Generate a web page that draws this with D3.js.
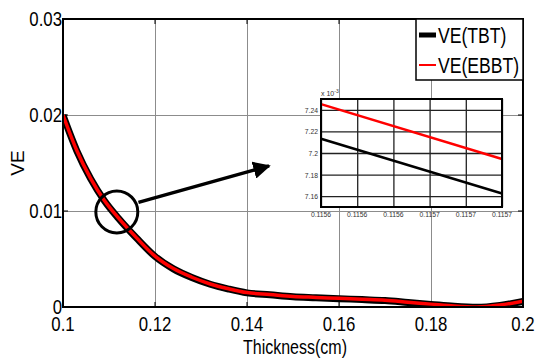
<!DOCTYPE html>
<html>
<head>
<meta charset="utf-8">
<script src="https://cdn.jsdelivr.net/npm/d3@7"></script>
<style>
  body { margin: 0; background: #fff; }
  svg text { font-family: "Liberation Sans", Arial, sans-serif; }
</style>
</head>
<body>
<div id="chart"></div>
<script>
// Main curve data
const thickness = [0.100, 0.103, 0.106, 0.109, 0.112, 0.116, 0.120, 0.124, 0.128, 0.132, 0.136, 0.140,
                   0.145, 0.150, 0.155, 0.160, 0.165, 0.170, 0.175, 0.180, 0.185, 0.190, 0.195, 0.200];
const veEBBT = [0.0200, 0.0163, 0.0134, 0.0111, 0.0093, 0.0072, 0.0053, 0.0040, 0.0031, 0.0024, 0.0019, 0.0015,
                0.0013, 0.0011, 0.0010, 0.0009, 0.0008, 0.0007, 0.0005, 0.0003, 0.0001, 0.0000, 0.0002, 0.0006];
const veTBT = [0.01997, 0.01627, 0.01337, 0.01107, 0.00927, 0.00717, 0.00527, 0.00397, 0.00307, 0.00237, 0.00187, 0.00147,
               0.00127, 0.00107, 0.00097, 0.00087, 0.00077, 0.00067, 0.00047, 0.00027, 0.00007, -0.00003, 0.00017, 0.00057];
const xTicks = [0.1, 0.12, 0.14, 0.16, 0.18, 0.2];
const yTicks = [0, 0.01, 0.02, 0.03];
const legendLabels = ["VE(TBT)", "VE(EBBT)"];

// Zoomed inset data (values x 10^-3)
const insetX = [0.11560, 0.11570];
const insetTBT = [7.2132, 7.1625];
const insetEBBT = [7.2453, 7.1945];
const insetXTicks = [0.11560, 0.11562, 0.11564, 0.11566, 0.11568, 0.11570];
const insetYTicks = [7.16, 7.18, 7.20, 7.22, 7.24];

// Annotation: circle on the curve and arrow to the inset
const markPoint = [0.1117, 0.0099];
const arrowFrom = [0.1164, 0.0109];
const arrowTo = [0.1448, 0.0147];

const W = 536, H = 358;
const margin = {top: 19, right: 13, bottom: 51, left: 63};
const width = W - margin.left - margin.right;
const height = H - margin.top - margin.bottom;

// narrow-looking text: no condensed font installed, so squeeze horizontally
function addText(parent, x, y, str, size, anchor, sx) {
    return parent.append("text")
        .attr("transform", `translate(${x},${y}) scale(${sx},1)`)
        .attr("text-anchor", anchor || "start")
        .style("font-size", size + "px")
        .text(str);
}

const svg = d3.select("#chart").append("svg")
    .attr("width", W).attr("height", H);

const g = svg.append("g")
    .attr("transform", `translate(${margin.left},${margin.top})`);

const x = d3.scaleLinear().domain([0.1, 0.2]).range([0, width]);
const y = d3.scaleLinear().domain([0, 0.03]).range([height, 0]);

// Grid
g.append("g")
    .attr("transform", `translate(0,${height})`)
    .call(d3.axisBottom(x).tickValues(xTicks).tickSize(-height).tickFormat(""))
    .call(a => a.select(".domain").remove())
    .selectAll("line").attr("stroke", "#8c8c8c").attr("stroke-width", 1);
g.append("g")
    .call(d3.axisLeft(y).tickValues(yTicks).tickSize(-width).tickFormat(""))
    .call(a => a.select(".domain").remove())
    .selectAll("line").attr("stroke", "#8c8c8c").attr("stroke-width", 1);

// Tick marks (inward, all four sides)
const tickLen = 5;
xTicks.forEach(t => {
    g.append("line").attr("x1", x(t)).attr("x2", x(t)).attr("y1", height).attr("y2", height - tickLen).attr("stroke", "#000");
    g.append("line").attr("x1", x(t)).attr("x2", x(t)).attr("y1", 0).attr("y2", tickLen).attr("stroke", "#000");
});
yTicks.forEach(t => {
    g.append("line").attr("x1", 0).attr("x2", tickLen).attr("y1", y(t)).attr("y2", y(t)).attr("stroke", "#000");
    g.append("line").attr("x1", width).attr("x2", width - tickLen).attr("y1", y(t)).attr("y2", y(t)).attr("stroke", "#000");
});

// Curves
svg.append("clipPath").attr("id", "plotclip")
    .append("rect").attr("x", 0).attr("y", -10).attr("width", width).attr("height", height + 10);

const line = d3.line().x((d, i) => x(thickness[i])).y(d => y(d)).curve(d3.curveMonotoneX);

g.append("path")
    .datum(veTBT)
    .attr("fill", "none").attr("stroke", "#000").attr("stroke-width", 7)
    .attr("stroke-linejoin", "round")
    .attr("clip-path", "url(#plotclip)")
    .attr("d", line);
g.append("path")
    .datum(veEBBT)
    .attr("fill", "none").attr("stroke", "#ff0000").attr("stroke-width", 3.5)
    .attr("stroke-linejoin", "round")
    .attr("clip-path", "url(#plotclip)")
    .attr("d", line);

// Axis box
g.append("rect")
    .attr("width", width).attr("height", height)
    .attr("fill", "none").attr("stroke", "#000").attr("stroke-width", 2);

// Tick labels
xTicks.forEach(t => addText(g, x(t), height + 24, d3.format("")(t), 21, "middle", 0.8));
yTicks.forEach(t => addText(g, -1, y(t) + 7, t === 0 ? "0" : d3.format(".2f")(t), 21, "end", 0.8));

// Axis titles
addText(g, width / 2 + 2, height + 47, "Thickness(cm)", 20, "middle", 0.8);
svg.append("text")
    .attr("transform", `translate(24,${margin.top + height / 2}) rotate(-90)`)
    .attr("text-anchor", "middle")
    .style("font-size", "19px")
    .text("VE");

// Legend
const lg = g.append("g").attr("transform", `translate(${width - 107},0)`);
lg.append("rect").attr("width", 107).attr("height", 61)
    .attr("fill", "#fff").attr("stroke", "#000").attr("stroke-width", 1.5);
const legendColors = ["#000", "#ff0000"];
const legendWidths = [5, 2];
legendLabels.forEach((lab, i) => {
    const ly = 16 + i * 30;
    lg.append("line").attr("x1", 3).attr("x2", 20).attr("y1", ly).attr("y2", ly)
        .attr("stroke", legendColors[i]).attr("stroke-width", legendWidths[i]);
    addText(lg, 22, ly + 8, lab, 22, "start", 0.8);
});

// Circle and arrow annotation
g.append("circle")
    .attr("cx", x(markPoint[0])).attr("cy", y(markPoint[1])).attr("r", 21)
    .attr("fill", "none").attr("stroke", "#000").attr("stroke-width", 3);

svg.append("defs").append("marker")
    .attr("id", "arrowhead").attr("viewBox", "0 0 10 10")
    .attr("refX", 9).attr("refY", 5)
    .attr("markerWidth", 5).attr("markerHeight", 5)
    .attr("orient", "auto")
    .append("path").attr("d", "M0,0 L10,5 L0,10 Z").attr("fill", "#000");

g.append("line")
    .attr("x1", x(arrowFrom[0])).attr("y1", y(arrowFrom[1]))
    .attr("x2", x(arrowTo[0])).attr("y2", y(arrowTo[1]))
    .attr("stroke", "#000").attr("stroke-width", 3.5)
    .attr("marker-end", "url(#arrowhead)");

// Inset
const inset = {left: 321, top: 99, width: 181, height: 108};
const ig = svg.append("g").attr("transform", `translate(${inset.left},${inset.top})`);
const ix = d3.scaleLinear().domain(insetX).range([0, inset.width]);
const iy = d3.scaleLinear().domain([7.15, 7.25]).range([inset.height, 0]);

ig.append("rect").attr("width", inset.width).attr("height", inset.height).attr("fill", "#fff");

ig.append("g")
    .attr("transform", `translate(0,${inset.height})`)
    .call(d3.axisBottom(ix).tickValues(insetXTicks).tickSize(-inset.height).tickFormat(""))
    .call(a => a.select(".domain").remove())
    .selectAll("line").attr("stroke", "#222").attr("stroke-width", 1.3);
ig.append("g")
    .call(d3.axisLeft(iy).tickValues(insetYTicks).tickSize(-inset.width).tickFormat(""))
    .call(a => a.select(".domain").remove())
    .selectAll("line").attr("stroke", "#222").attr("stroke-width", 1.3);

const iline = d3.line().x((d, i) => ix(insetX[i])).y(d => iy(d));
ig.append("path").datum(insetEBBT)
    .attr("fill", "none").attr("stroke", "#ff0000").attr("stroke-width", 2.5).attr("d", iline);
ig.append("path").datum(insetTBT)
    .attr("fill", "none").attr("stroke", "#000").attr("stroke-width", 2.5).attr("d", iline);

ig.append("rect").attr("width", inset.width).attr("height", inset.height)
    .attr("fill", "none").attr("stroke", "#000").attr("stroke-width", 2);

insetXTicks.forEach(t => addText(ig, ix(t), inset.height + 10, d3.format(".4f")(t), 8, "middle", 0.85).attr("fill", "#333"));
insetYTicks.forEach(t => addText(ig, -3, iy(t) + 3, d3.format("")(+t.toFixed(2)), 8, "end", 0.85).attr("fill", "#333"));
const exp = ig.append("text").attr("x", 0).attr("y", -3)
    .style("font-size", "7px").attr("fill", "#333");
exp.append("tspan").text("x 10");
exp.append("tspan").attr("dy", -3).style("font-size", "5px").text("-3");
</script>
</body>
</html>
